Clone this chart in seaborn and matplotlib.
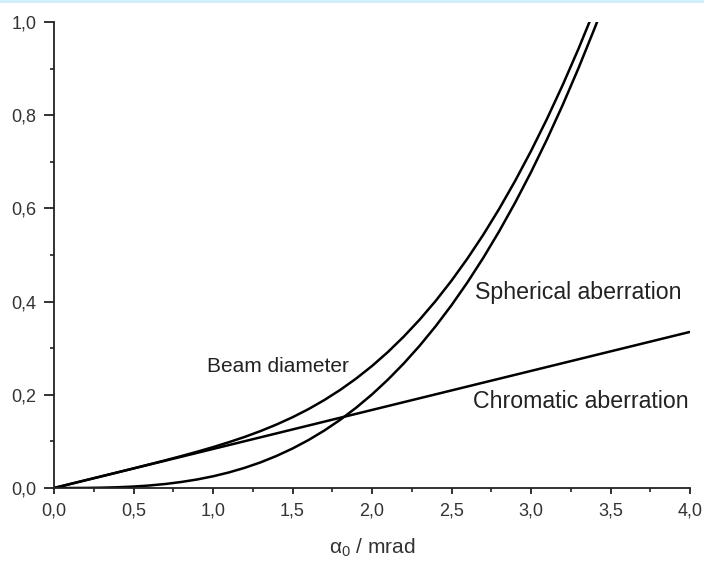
import matplotlib
matplotlib.use("Agg")
import matplotlib.pyplot as plt
import seaborn as sns
import pandas as pd
from matplotlib.lines import Line2D

sns.set_theme(style="white")
plt.rcParams['font.family'] = ['Liberation Sans', 'DejaVu Sans']
plt.rcParams['mathtext.fontset'] = 'custom'
plt.rcParams['mathtext.rm'] = 'Liberation Sans'
plt.rcParams['mathtext.it'] = 'Liberation Sans'

# aperture angle alpha_0 (mrad)
alpha = [0.0, 0.1, 0.2, 0.3, 0.4, 0.5, 0.6, 0.7, 0.8, 0.9, 1.0, 1.1, 1.2, 1.3, 1.4,
         1.5, 1.6, 1.7, 1.8, 1.9, 2.0, 2.1, 2.2, 2.3, 2.4, 2.5, 2.6, 2.7, 2.8, 2.9,
         3.0, 3.1, 3.2, 3.3, 3.4, 3.42]
spherical = [0.0, 0.0, 0.0002, 0.0007, 0.0016, 0.0031, 0.0054, 0.0086, 0.0129, 0.0183,
             0.0251, 0.0334, 0.0434, 0.0551, 0.0689, 0.0847, 0.1028, 0.1233, 0.1464,
             0.1722, 0.2008, 0.2325, 0.2673, 0.3054, 0.3470, 0.3922, 0.4412, 0.4940,
             0.5510, 0.6122, 0.6777, 0.7478, 0.8225, 0.9020, 0.9865, 1.004]
beam = [0.0, 0.0084, 0.0168, 0.0252, 0.0336, 0.0421, 0.0507, 0.0594, 0.0684, 0.0778,
        0.0877, 0.0983, 0.1097, 0.1223, 0.1363, 0.1518, 0.1692, 0.1887, 0.2105,
        0.2348, 0.2618, 0.2918, 0.3250, 0.3614, 0.4013, 0.4449, 0.4923, 0.5436,
        0.5991, 0.6589, 0.7230, 0.7918, 0.8653, 0.9436, 1.027, 1.045]
chrom_alpha = [0.0, 4.0]
chromatic = [0.0, 0.335]

xticks = [0.0, 0.5, 1.0, 1.5, 2.0, 2.5, 3.0, 3.5, 4.0]
xticklabels = ["0,0", "0,5", "1,0", "1,5", "2,0", "2,5", "3,0", "3,5", "4,0"]
yticks = [0.0, 0.2, 0.4, 0.6, 0.8, 1.0]
yticklabels = ["0,0", "0,2", "0,4", "0,6", "0,8", "1,0"]

df_s = pd.DataFrame({"a": alpha, "v": spherical})
df_b = pd.DataFrame({"a": alpha, "v": beam})
df_c = pd.DataFrame({"a": chrom_alpha, "v": chromatic})

fig = plt.figure(figsize=(7.04, 5.63), dpi=100)
ax = fig.add_axes([54/704, 75/563, 636/704, 466/563])

for d in (df_s, df_b, df_c):
    sns.lineplot(data=d, x="a", y="v", ax=ax, color="black", linewidth=1.8)

ax.set_xlim(0, 4.0)
ax.set_ylim(0, 1.0)
ax.set_xticks(xticks)
ax.set_xticklabels(xticklabels)
ax.set_yticks(yticks)
ax.set_yticklabels(yticklabels)
ax.set_xticks([0.25 + 0.5 * i for i in range(8)], minor=True)
ax.set_yticks([0.1 + 0.2 * i for i in range(5)], minor=True)
ax.tick_params(axis='both', which='major', direction='out', width=1.3,
               color='#222222', labelsize=13, labelcolor='#333333',
               bottom=True, left=True)
ax.tick_params(axis='y', which='major', length=7.2, pad=5.5)
ax.tick_params(axis='x', which='major', length=4.5, pad=6)
ax.tick_params(axis='both', which='minor', direction='out', length=3.2, width=1.2,
               color='#222222', bottom=True, left=True)
for side in ("top", "right"):
    ax.spines[side].set_visible(False)
for side in ("left", "bottom"):
    ax.spines[side].set_color('#222222')
    ax.spines[side].set_linewidth(1.3)

ax.set_xlabel(r'$\alpha_0$ / mrad', fontsize=15, color='#333333', labelpad=12)
ax.set_ylabel("")

ax.text(2.648, 0.42, "Spherical aberration", fontsize=16.7, color='#222222', va='center')
ax.text(0.965, 0.26, "Beam diameter", fontsize=15.0, color='#222222', va='center')
ax.text(2.635, 0.185, "Chromatic aberration", fontsize=16.7, color='#222222', va='center')

fig.add_artist(Line2D([0, 1], [0.998, 0.998], transform=fig.transFigure,
                      color='#cdeefa', linewidth=2))

fig.savefig("out.png", dpi=100)
